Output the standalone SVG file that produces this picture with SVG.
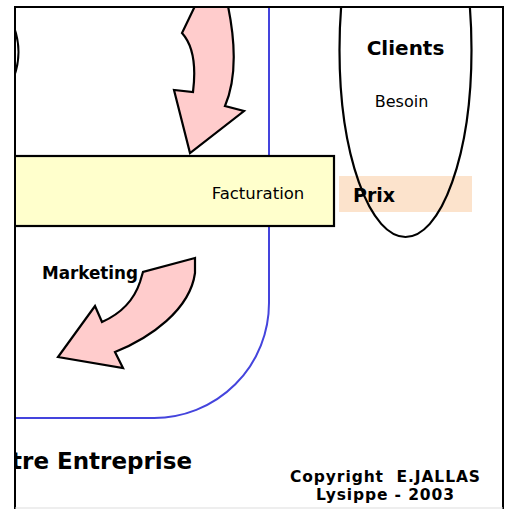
<svg xmlns="http://www.w3.org/2000/svg" width="509" height="509" viewBox="0 0 509 509">
<style>
.arrow{fill:#FFCCCC;stroke:#000;stroke-width:2.2;stroke-linejoin:miter}
.t{font-family:"DejaVu Sans",Verdana,sans-serif;fill:#000}
.b{font-weight:bold}
</style>
<defs>
<clipPath id="frame"><rect x="15" y="7" width="488" height="502"/></clipPath>
</defs>
<rect width="509" height="509" fill="#fff"/>
<g clip-path="url(#frame)">
  <g id="entreprise">
    <path d="M269,7 V303 A115,115 0 0 1 154,418 H15" fill="none" stroke="#4444DD" stroke-width="2"/>
  </g>
  <g id="left-ellipse">
    <path d="M14,27 Q23,52 14,77" fill="none" stroke="#000" stroke-width="2"/>
  </g>
  <g id="prix">
    <rect x="339" y="176" width="133" height="36" fill="#FCE3CC"/>
  </g>
  <g id="clients">
    <ellipse cx="405.5" cy="50" rx="66" ry="187" fill="none" stroke="#000" stroke-width="2.2"/>
    <text class="t b" x="405.5" y="55" font-size="20" text-anchor="middle">Clients</text>
    <text class="t" x="401.5" y="107" font-size="16" text-anchor="middle">Besoin</text>
  </g>
  <text class="t b" x="353" y="202" font-size="19">Prix</text>
  <g id="facturation">
    <rect x="10" y="156" width="324" height="70" fill="#FFFFCC" stroke="#000" stroke-width="2.2"/>
    <text class="t" x="258" y="199" font-size="16.5" text-anchor="middle">Facturation</text>
  </g>
  <g id="connectors">
    <path class="arrow" d="M195,6 L182,33 C191,43 197,60 193,92 L174,90 L190,153 L244,111 L225,106 C236,80 236,45 228,6 Z"/>
    <path class="arrow" d="M195,258 L143,272 L140,282 C134,300 120,314 102,322 L95,306 L58,357 L123,368 L115,352 C150,338 190,310 195,273 Z"/>
  </g>
  <text class="t b" x="90" y="279" font-size="16.8" text-anchor="middle">Marketing</text>
  <text class="t b" x="192" y="469" font-size="23" text-anchor="end">tre Entreprise</text>
  <text class="t b" x="290" y="482" font-size="15.5" textLength="190" xml:space="preserve">Copyright  E.JALLAS</text>
  <text class="t b" x="316" y="500" font-size="15.5" textLength="138">Lysippe - 2003</text>
</g>
<g id="frame-border" fill="none">
  <path d="M15,509 V7 H503 V509" stroke="#000" stroke-width="2"/>
  <line x1="15" y1="508" x2="503" y2="508" stroke="#ddd" stroke-width="1"/>
</g>
</svg>
